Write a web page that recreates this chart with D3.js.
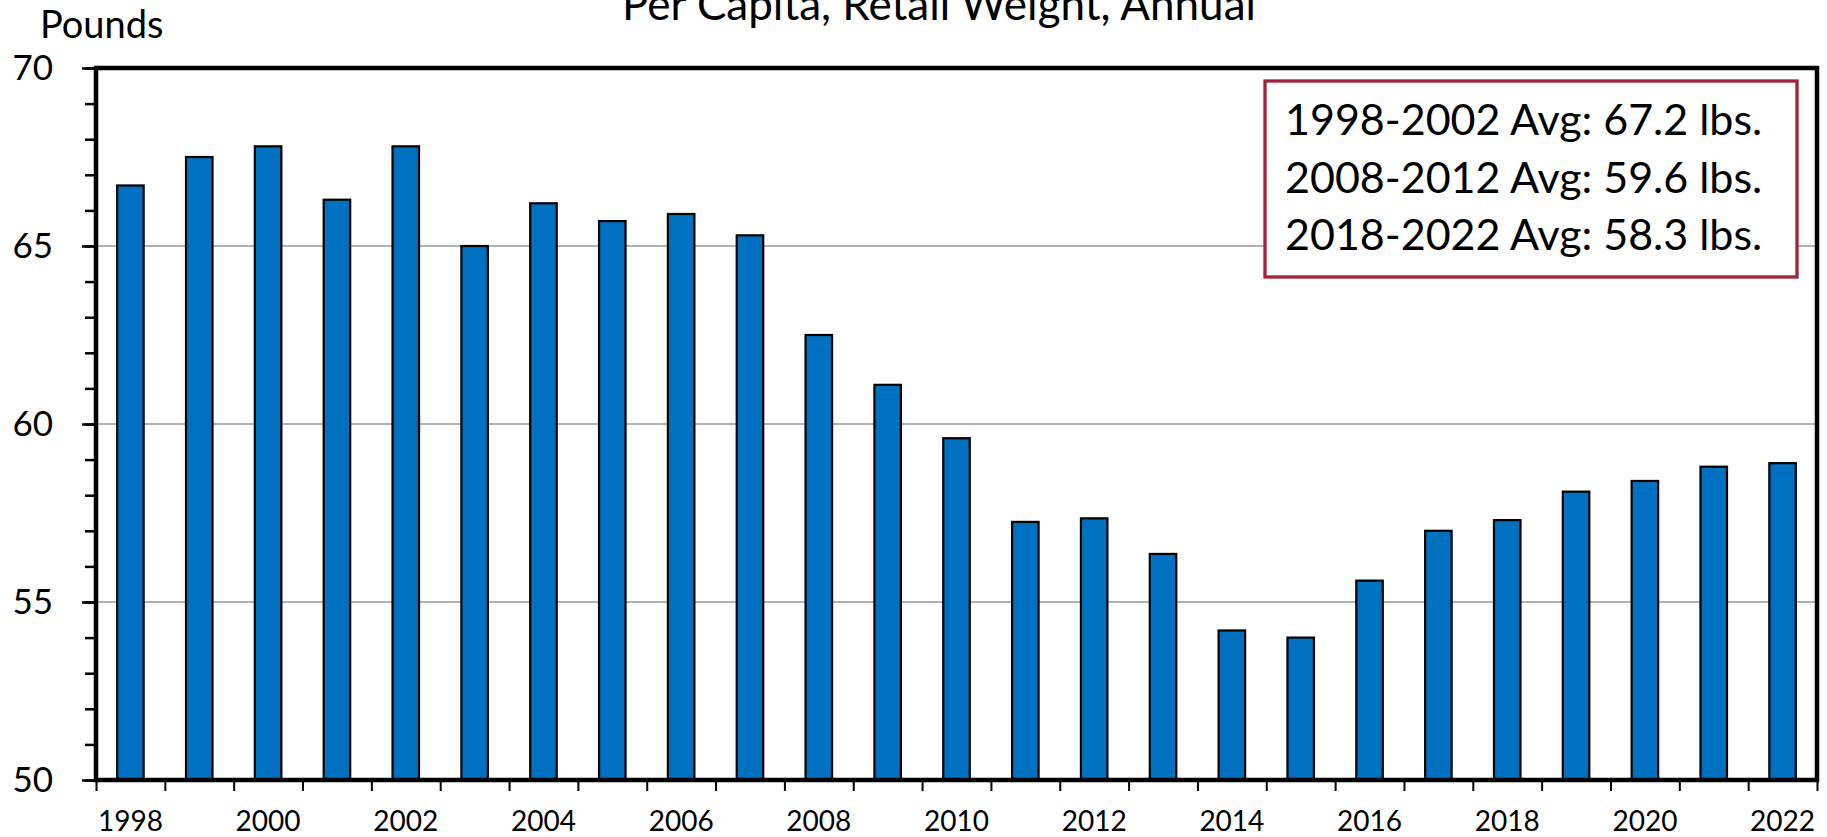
<!DOCTYPE html>
<html>
<head>
<meta charset="utf-8">
<script src="https://cdn.jsdelivr.net/npm/d3@7"></script>
<style>
  body { margin: 0; background: #fff; }
  svg { display: block; font-family: Lato, "Open Sans", sans-serif; }
</style>
</head>
<body>
<div id="chart"></div>
<script>
const years = ["1998", "1999", "2000", "2001", "2002", "2003", "2004", "2005", "2006", "2007",
  "2008", "2009", "2010", "2011", "2012", "2013", "2014", "2015", "2016", "2017",
  "2018", "2019", "2020", "2021", "2022"];
const pounds = [66.7, 67.5, 67.8, 66.3, 67.8, 65.0, 66.2, 65.7, 65.9, 65.3,
  62.5, 61.1, 59.6, 57.25, 57.35, 56.35, 54.2, 54.0, 55.6, 57.0,
  57.3, 58.1, 58.4, 58.8, 58.9];
const yMajorTicks = [50, 55, 60, 65, 70];
const gridValues = [55, 60, 65];
const xLabels = ["1998", "2000", "2002", "2004", "2006", "2008", "2010", "2012",
  "2014", "2016", "2018", "2020", "2022"];
const averages = ["1998-2002 Avg: 67.2 lbs.", "2008-2012 Avg: 59.6 lbs.", "2018-2022 Avg: 58.3 lbs."];
const title = "Per Capita, Retail Weight, Annual";
const unitLabel = "Pounds";

const width = 1827, height = 837;
const plot = { left: 96, right: 1817, top: 68, bottom: 780 };

const svg = d3.select("#chart").append("svg").attr("width", width).attr("height", height);

const y = d3.scaleLinear().domain([50, 70]).range([plot.bottom, plot.top]);
const x = d3.scaleBand().domain(years).range([plot.left, plot.right])
  .paddingInner(0.615).paddingOuter(0.3075);
const xCenter = d3.scaleBand().domain(years).range([plot.left, plot.right]);
const xEdge = d3.scaleLinear().domain([0, years.length]).range([plot.left, plot.right]);

// gridlines
svg.append("g")
  .selectAll("line")
  .data(gridValues)
  .join("line")
  .attr("x1", plot.left)
  .attr("x2", plot.right)
  .attr("y1", (d) => y(d))
  .attr("y2", (d) => y(d))
  .attr("stroke", "#999")
  .attr("stroke-width", 1.5);

// bars
svg.append("g")
  .selectAll("rect")
  .data(years)
  .join("rect")
  .attr("x", (d) => x(d))
  .attr("y", (d, i) => y(pounds[i]))
  .attr("width", x.bandwidth())
  .attr("height", (d, i) => y(50) - y(pounds[i]))
  .attr("fill", "#0070C0")
  .attr("stroke", "#000")
  .attr("stroke-width", 2.2);

// y axis: minor then major ticks
const yMinor = svg.append("g")
  .attr("transform", `translate(${plot.left},0)`)
  .call(d3.axisLeft(y).tickValues(d3.range(50, 71, 1)).tickSize(11).tickFormat(""));
const yMajor = svg.append("g")
  .attr("transform", `translate(${plot.left},0)`)
  .call(d3.axisLeft(y).tickValues(yMajorTicks).tickSize(14).tickPadding(29));
[yMinor, yMajor].forEach((g) => {
  g.select(".domain").remove();
  g.selectAll(".tick line").attr("stroke", "#000").attr("stroke-width", 2.5);
});
yMajor.selectAll("text").attr("font-size", 35).attr("fill", "#000").style("font-family", "Lato");

// x axis: ticks between categories, labels centred under bars
const xTicks = svg.append("g")
  .attr("transform", `translate(0,${plot.bottom})`)
  .call(d3.axisBottom(xEdge).tickValues(d3.range(0, years.length + 1)).tickSize(11).tickFormat(""));
xTicks.select(".domain").remove();
xTicks.selectAll(".tick line").attr("stroke", "#000").attr("stroke-width", 2);

const xLab = svg.append("g")
  .attr("transform", `translate(0,${plot.bottom})`)
  .call(d3.axisBottom(xCenter).tickValues(xLabels).tickSize(0).tickPadding(31));
xLab.select(".domain").remove();
xLab.selectAll("text").attr("font-size", 28).attr("fill", "#000").style("font-family", "Lato");

// plot frame
svg.append("rect")
  .attr("x", plot.left)
  .attr("y", plot.top)
  .attr("width", plot.right - plot.left)
  .attr("height", plot.bottom - plot.top)
  .attr("fill", "none")
  .attr("stroke", "#000")
  .attr("stroke-width", 4.5);

// title (clipped at the top edge) and unit label
svg.append("text")
  .attr("x", 939)
  .attr("y", 20)
  .attr("text-anchor", "middle")
  .attr("font-size", 44)
  .text(title);

svg.append("text")
  .attr("x", 40)
  .attr("y", 38)
  .attr("font-size", 38)
  .text(unitLabel);

// averages box
const box = svg.append("g");
box.append("rect")
  .attr("x", 1265)
  .attr("y", 81)
  .attr("width", 532)
  .attr("height", 196)
  .attr("fill", "#fff")
  .attr("stroke", "#A0233A")
  .attr("stroke-width", 3.3);
box.selectAll("text")
  .data(averages)
  .join("text")
  .attr("x", 1285)
  .attr("y", (d, i) => 135 + i * 57.5)
  .attr("font-size", 43)
  .attr("fill", "#000")
  .text((d) => d);
</script>
</body>
</html>
